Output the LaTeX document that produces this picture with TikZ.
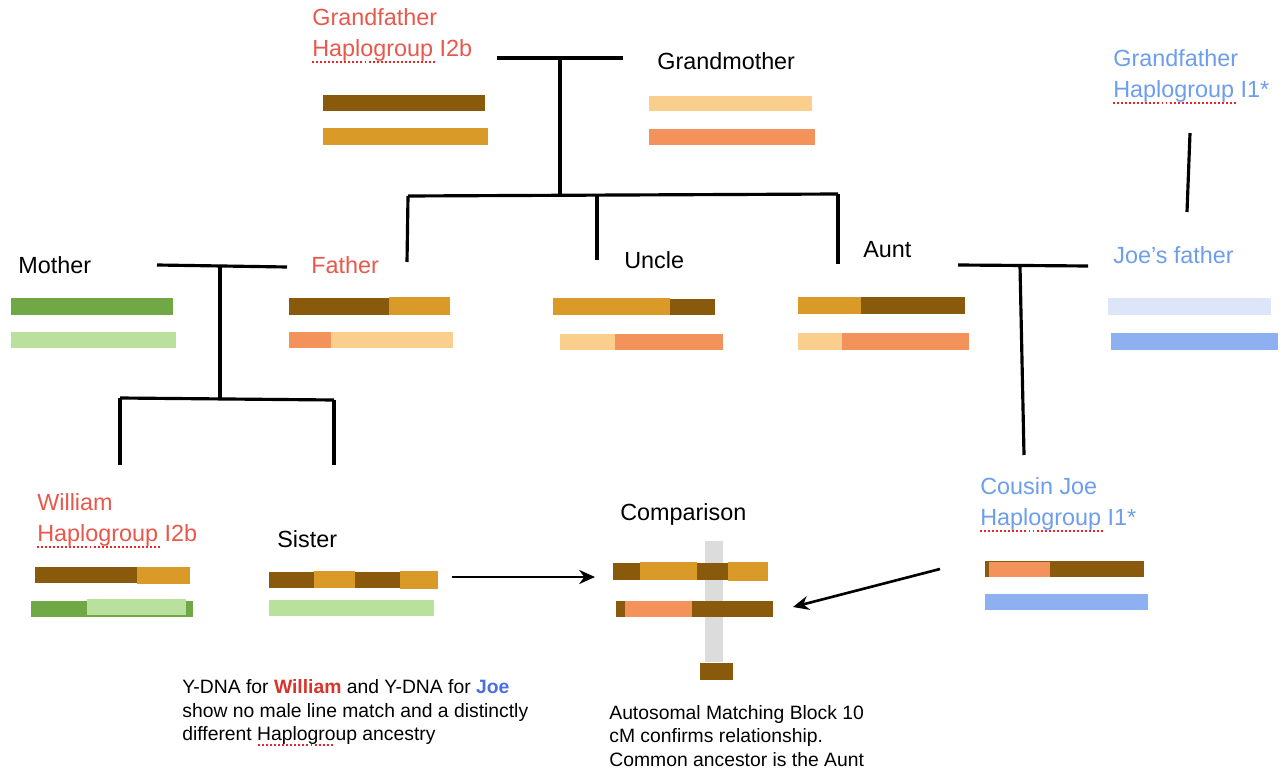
\documentclass[tikz,border=0pt]{standalone}
\usepackage{fontspec}
\setmainfont{Liberation Sans}
\usetikzlibrary{arrows.meta, calc}
\definecolor{ybrown}{RGB}{138,90,12}
\definecolor{ygold}{RGB}{218,154,40}
\definecolor{xpeach}{RGB}{250,206,140}
\definecolor{xsalmon}{RGB}{244,146,92}
\definecolor{mgreen}{RGB}{112,168,70}
\definecolor{lgreen}{RGB}{186,224,158}
\definecolor{lblue}{RGB}{220,230,248}
\definecolor{jblue}{RGB}{140,176,240}
\definecolor{redtxt}{RGB}{232,88,76}
\definecolor{bluetxt}{RGB}{109,158,235}
\definecolor{boldred}{RGB}{217,52,43}
\definecolor{boldblue}{RGB}{74,111,224}
\definecolor{spellred}{RGB}{230,40,40}
\definecolor{matchgrey}{RGB}{220,220,220}

\begin{document}
\begin{tikzpicture}[x=0.02cm, y=-0.02cm,
    lbl/.style={anchor=west, inner sep=0pt, align=left, font=\fontsize{13.3}{17.6}\selectfont},
    note/.style={anchor=west, inner sep=0pt, align=left, font=\fontsize{11}{13.6}\selectfont},
    tree/.style={black, line width=1.8pt},
    spell/.style={spellred, line width=1.1pt, dash pattern=on 1.1pt off 1.2pt},
    ptr/.style={-{Stealth[length=9pt,width=8pt]}, line width=1.5pt}]
            \fill[white] (0,0) rectangle (1284,773);
            \useasboundingbox (0,0) rectangle (1284,773);

            % people
            \node[lbl, redtxt] (gfa) at (312,35) {Grandfather\\Haplogroup I2b};
            \node[lbl] (gmo) at (657,61) {Grandmother};
            \node[lbl, bluetxt] (jgfa) at (1113,76) {Grandfather\\Haplogroup I1*};
            \node[lbl] (mother) at (18,265) {Mother};
            \node[lbl, redtxt] (father) at (311,265) {Father};
            \node[lbl] (uncle) at (624,260) {Uncle};
            \node[lbl] (aunt) at (863,250) {Aunt};
            \node[lbl, bluetxt] (jfa) at (1113,255) {Joe's father};
            \node[lbl, redtxt] (william) at (37,520) {William\\Haplogroup I2b};
            \node[lbl] (sister) at (277,539) {Sister};
            \node[lbl] (cmp) at (620,514) {Comparison};
            \node[lbl, bluetxt] (joe) at (980,504) {Cousin Joe\\Haplogroup I1*};

            % spell-check marks under Haplogroup
            \draw[spell] ($(gfa.south west)+(0,0)$) -- ++(124,0);
            \draw[spell] ($(jgfa.south west)+(0,0)$) -- ++(124,0);
            \draw[spell] ($(william.south west)+(0,0)$) -- ++(124,0);
            \draw[spell] ($(joe.south west)+(0,0)$) -- ++(124,0);

            % chromosome bars
            \fill[ybrown] (323,95) rectangle (485,111);
            \fill[ygold] (323,128) rectangle (488,145);
            \fill[xpeach] (649,96) rectangle (812,111);
            \fill[xsalmon] (649,129) rectangle (815,145);
            \fill[mgreen] (11,298) rectangle (173,315);
            \fill[lgreen] (11,332) rectangle (176,348);
            \fill[ybrown] (289,298) rectangle (389,315);
            \fill[ygold] (389,297) rectangle (450,315);
            \fill[xsalmon] (289,332) rectangle (331,348);
            \fill[xpeach] (331,332) rectangle (453,348);
            \fill[ygold] (553,298) rectangle (670,315);
            \fill[ybrown] (670,299) rectangle (715,315);
            \fill[xpeach] (560,334) rectangle (615,350);
            \fill[xsalmon] (615,334) rectangle (723,350);
            \fill[ygold] (798,297) rectangle (861,314);
            \fill[ybrown] (861,297) rectangle (965,314);
            \fill[xpeach] (798,333) rectangle (842,350);
            \fill[xsalmon] (842,333) rectangle (969,350);
            \fill[lblue] (1108,298) rectangle (1271,315);
            \fill[jblue] (1111,333) rectangle (1278,350);
            \fill[ybrown] (35,567) rectangle (137,583);
            \fill[ygold] (137,567) rectangle (190,584);
            \fill[mgreen] (31,601) rectangle (193,617);
            \fill[lgreen] (87,599) rectangle (186,615);
            \fill[ybrown] (269,572) rectangle (314,588);
            \fill[ygold] (314,571) rectangle (355,588);
            \fill[ybrown] (355,572) rectangle (400,588);
            \fill[ygold] (400,571) rectangle (438,589);
            \fill[lgreen] (269,600) rectangle (434,616);
            \fill[matchgrey] (705,541) rectangle (723,662);
            \fill[ybrown] (613,563) rectangle (640,580);
            \fill[ygold] (640,562) rectangle (697,580);
            \fill[ybrown] (697,563) rectangle (728,580);
            \fill[ygold] (728,562) rectangle (768,581);
            \fill[ybrown] (616,601) rectangle (773,617);
            \fill[xsalmon] (625,601) rectangle (692,617);
            \fill[ybrown] (700,663) rectangle (733,680);
            \fill[ybrown] (985,561) rectangle (1144,577);
            \fill[xsalmon] (989,562) rectangle (1050,577);
            \fill[jblue] (985,594) rectangle (1148,610);

            % family tree lines
            \coordinate (gpl) at (497,58);
            \coordinate (gpr) at (623,58);
            \coordinate (gpm) at (560,58);
            \coordinate (gpd) at (560,195);
            \coordinate (sibl) at (408,196);
            \coordinate (sibm) at (597,195);
            \coordinate (sibr) at (838,194);
            \draw[tree] (gpl) -- (gpr);
            \draw[tree] (gpm) -- (gpd);
            \draw[tree] (sibl) -- (sibr);
            \draw[tree] (sibl) -- (407,262);
            \draw[tree] (sibm) -- (597,260);
            \draw[tree] (sibr) -- (838,264);
            \coordinate (mfl) at (157,265);
            \coordinate (mfr) at (287,267);
            \coordinate (mfm) at (220,266);
            \coordinate (mfd) at (220,398);
            \coordinate (kidl) at (120,398);
            \coordinate (kidr) at (334,400);
            \draw[tree] (mfl) -- (mfr);
            \draw[tree] (mfm) -- (mfd);
            \draw[tree] (kidl) -- (kidr);
            \draw[tree] (kidl) -- (120,465);
            \draw[tree] (kidr) -- (334,465);
            \coordinate (ajl) at (958,265);
            \coordinate (ajr) at (1088,266);
            \coordinate (ajm) at (1020,266);
            \draw[tree] (ajl) -- (ajr);
            \draw[tree] (ajm) -- (1024,455);
            \draw[tree] (1190,133) -- (1187,212);

            % comparison arrows
            \coordinate (sisout) at (452,577);
            \coordinate (cmpin) at (595,577);
            \coordinate (joeout) at (940,569);
            \coordinate (cmpjoe) at (793,607);
            \draw[ptr] (sisout) -- (cmpin);
            \draw[ptr] (joeout) -- (cmpjoe);

            % notes
            \node[note] (ydna) at (182,712) {Y-DNA for {\color{boldred}\bfseries William} and Y-DNA for {\color{boldblue}\bfseries Joe}\\show no male line match and a distinctly\\different Haplogroup ancestry};
            \node[note] (auto) at (609,736) {Autosomal Matching Block 10\\cM confirms relationship.\\Common ancestor is the Aunt};
            \draw[spell] ($(ydna.south west)+(76,0)$) -- ++(75,0);
        \end{tikzpicture}
\end{document}
